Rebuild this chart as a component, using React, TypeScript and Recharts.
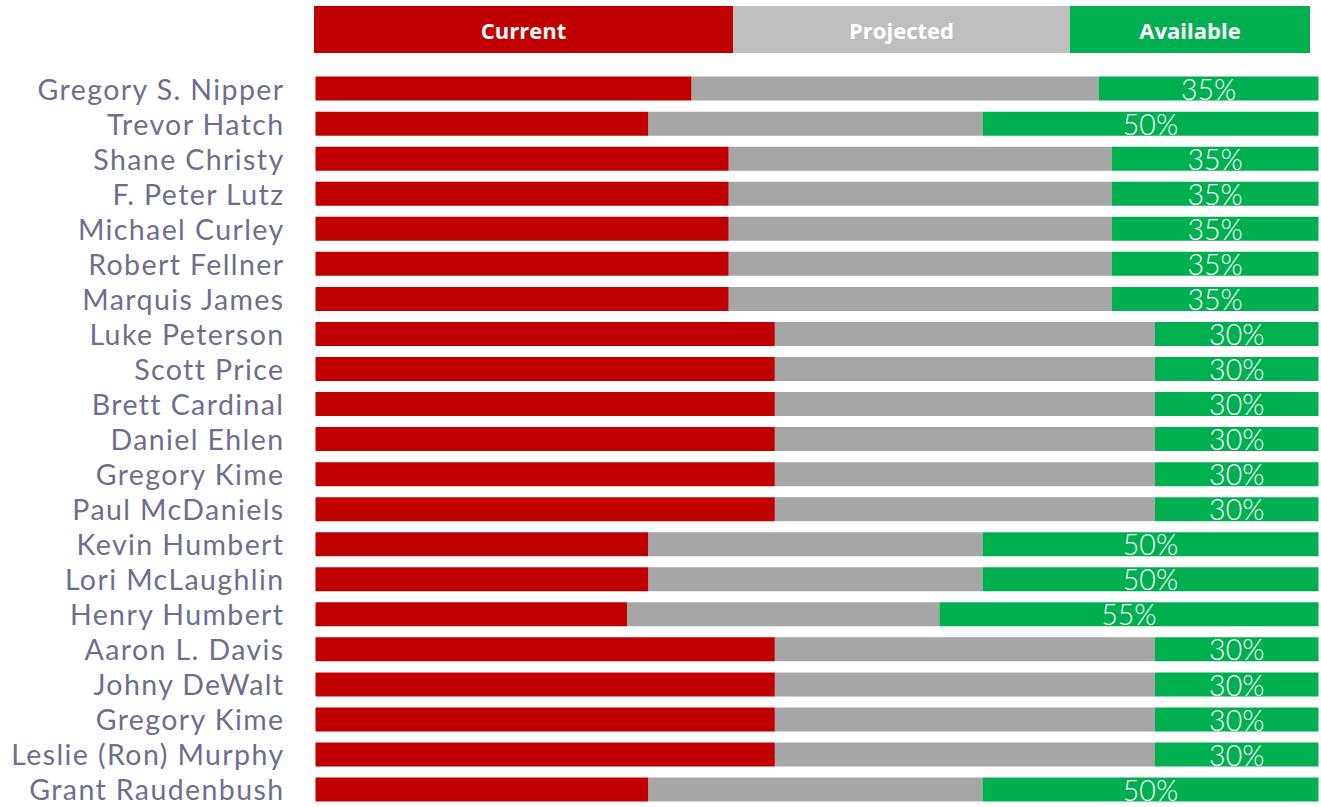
import React from "react";
import { BarChart, Bar, XAxis, YAxis, LabelList } from "recharts";

const names = [
  "Gregory S. Nipper",
  "Trevor Hatch",
  "Shane Christy",
  "F. Peter Lutz",
  "Michael Curley",
  "Robert Fellner",
  "Marquis James",
  "Luke Peterson",
  "Scott Price",
  "Brett Cardinal",
  "Daniel Ehlen",
  "Gregory Kime",
  "Paul McDaniels",
  "Kevin Humbert",
  "Lori McLaughlin",
  "Henry Humbert",
  "Aaron L. Davis",
  "Johny DeWalt",
  "Gregory Kime",
  "Leslie (Ron) Murphy",
  "Grant Raudenbush",
];

const current = [37.5, 33.2, 41.2, 41.2, 41.2, 41.2, 41.2, 45.8, 45.8, 45.8, 45.8, 45.8, 45.8, 33.2, 33.2, 31.1, 45.8, 45.8, 45.8, 45.8, 33.2];
const projected = [40.6, 33.3, 38.2, 38.2, 38.2, 38.2, 38.2, 37.9, 37.9, 37.9, 37.9, 37.9, 37.9, 33.3, 33.3, 31.1, 37.9, 37.9, 37.9, 37.9, 33.3];
const available = [21.9, 33.5, 20.6, 20.6, 20.6, 20.6, 20.6, 16.3, 16.3, 16.3, 16.3, 16.3, 16.3, 33.5, 33.5, 37.8, 16.3, 16.3, 16.3, 16.3, 33.5];
const availableLabels = ["35%", "50%", "35%", "35%", "35%", "35%", "35%", "30%", "30%", "30%", "30%", "30%", "30%", "50%", "50%", "55%", "30%", "30%", "30%", "30%", "50%"];

const legendNames = ["Current", "Projected", "Available"];

const data = names.map((n, i) => ({
  name: n,
  key: i,
  current: current[i],
  projected: projected[i],
  available: available[i],
  label: availableLabels[i],
}));

const FONT = "'Open Sans', 'Noto Sans', sans-serif";
const TICK_FONT = "Lato, 'Open Sans', sans-serif";

const YTick = (props: any) => {
  const { x, y, payload } = props;
  return (
    <text
      x={x}
      y={y}
      textAnchor="end"
      dominantBaseline="central"
      fill="#6E6E8E"
      fontFamily={TICK_FONT}
      fontSize={28.5}
      letterSpacing={1.4}
    >
      {names[payload.value]}
    </text>
  );
};

const legendBoxes = [
  { left: 314, width: 419, color: "#C00000" },
  { left: 733, width: 337, color: "#BFBFBF" },
  { left: 1070, width: 240, color: "#00B050" },
];

export default function App() {
  return (
    <div style={{ position: "absolute", left: 0, top: 0, width: 1321, height: 807, background: "#fff" }}>
      {legendBoxes.map((b, i) => (
        <div
          key={i}
          style={{
            position: "absolute",
            left: b.left,
            top: 6,
            width: b.width,
            height: 47,
            background: b.color,
            color: "#fff",
            fontFamily: FONT,
            fontWeight: 700,
            fontSize: 22,
            display: "flex",
            alignItems: "center",
            justifyContent: "center",
          }}
        >
          {legendNames[i]}
        </div>
      ))}
      <div style={{ position: "absolute", left: 0, top: 0 }}>
        <BarChart
          width={1321}
          height={807}
          data={data}
          layout="vertical"
          margin={{ top: 71, right: 2.5, bottom: 0, left: 0 }}
          barCategoryGap="16%"
        >
          <XAxis type="number" domain={[0, 100]} hide />
          <YAxis
            type="category"
            dataKey="key"
            width={315.5}
            axisLine={false}
            tickLine={false}
            tickSize={0}
            tickMargin={31}
            interval={0}
            tick={<YTick />}
          />
          <Bar dataKey="current" stackId="a" fill="#C00000" isAnimationActive={false} />
          <Bar dataKey="projected" stackId="a" fill="#A6A6A6" isAnimationActive={false} />
          <Bar dataKey="available" stackId="a" fill="#00B050" isAnimationActive={false}>
            <LabelList
              dataKey="label"
              position="center"
              fill="#fff"
              fontFamily={TICK_FONT}
              fontWeight={300}
              fontSize={28.5}
              dy={1}
            />
          </Bar>
        </BarChart>
      </div>
    </div>
  );
}
